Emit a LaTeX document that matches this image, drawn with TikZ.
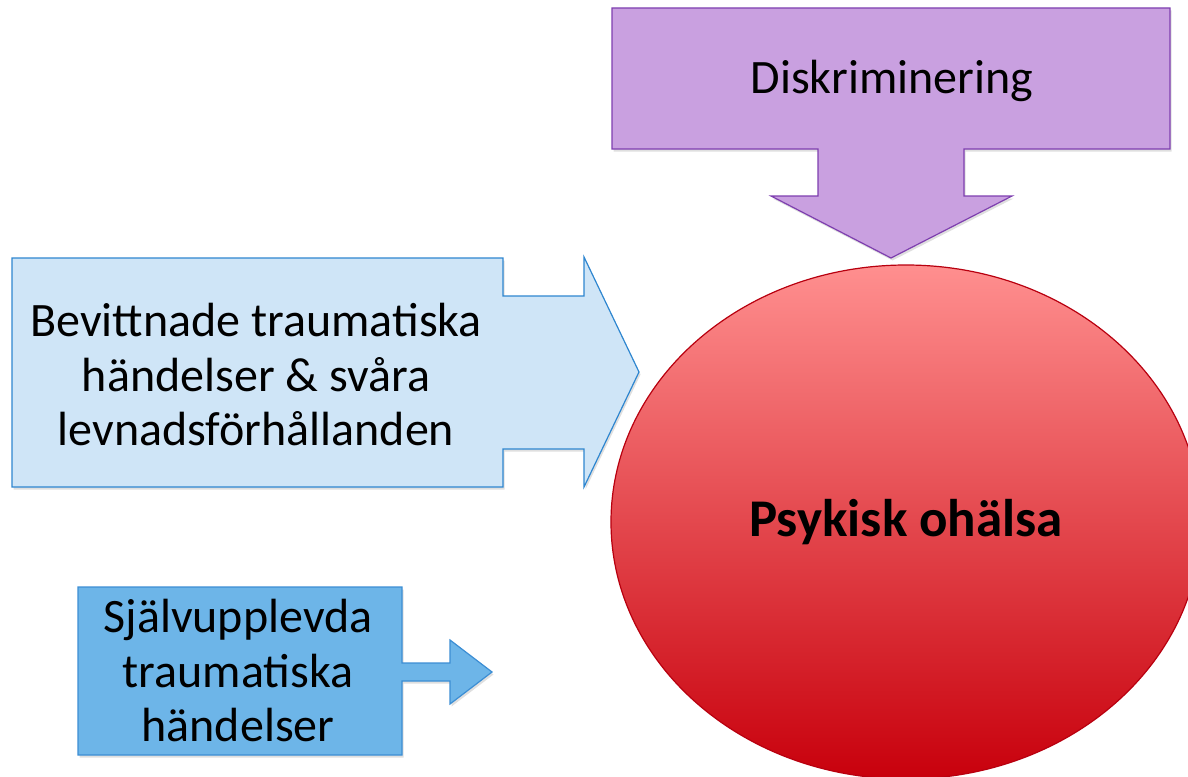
\documentclass[tikz,border=0pt]{standalone}
\usepackage{fontspec}
\setmainfont{Carlito}
\usetikzlibrary{shapes.geometric,shadows}
\definecolor{purfill}{HTML}{C9A0E0}
\definecolor{purline}{HTML}{7E3FAF}
\definecolor{lbfill}{HTML}{CFE5F7}
\definecolor{lbline}{HTML}{2E86D0}
\definecolor{dbfill}{HTML}{6DB5E8}
\definecolor{dbline}{HTML}{3C8ED4}
\definecolor{redtop}{HTML}{FF8F8F}
\definecolor{redbot}{HTML}{C8000C}
\definecolor{redline}{HTML}{B8000F}
\tikzset{
  shp/.style={line width=1.2pt, line join=miter, drop shadow={shadow xshift=1.5pt, shadow yshift=-2.5pt, opacity=0.25}},
  txt/.style={align=center, inner sep=0pt, font=\fontsize{48}{54.5}\selectfont},
}
\begin{document}
\begin{tikzpicture}[x=1pt,y=-1pt]
\useasboundingbox (0,0) rectangle (1188,776);
% purple down arrow callout
\draw[shp, fill=purfill, draw=purline] (612,8) -- (1170,8) -- (1170,149) -- (964,149) -- (964,196) -- (1012,196) -- (891,258) -- (771,196) -- (818,196) -- (818,149) -- (612,149) -- cycle;
\node[txt] (disk) at (892,81) {Diskriminering};
% light blue right arrow callout
\draw[shp, fill=lbfill, draw=lbline] (12,258) -- (503,258) -- (503,296) -- (584,296) -- (584,257) -- (639,372) -- (584,487) -- (584,449) -- (503,449) -- (503,487) -- (12,487) -- cycle;
\node[txt] (bev) at (256,375) {Bevittnade traumatiska\\händelser \& svåra\\levnadsförhållanden};
% dark blue right arrow callout
\draw[shp, fill=dbfill, draw=dbline] (78,587) -- (402,587) -- (402,663) -- (450,663) -- (450,640) -- (492,672) -- (450,704) -- (450,681) -- (402,681) -- (402,755) -- (78,755) -- cycle;
\node[txt] (sjalv) at (238,671) {Självupplevda\\traumatiska\\händelser};
% ellipse
\node[ellipse, draw=redline, line width=1.2pt, top color=redtop, bottom color=redbot, minimum width=590pt, minimum height=514pt, inner sep=0pt, font=\fontsize{53}{60}\selectfont\bfseries] (psyk) at (906,522) {Psykisk ohälsa};
\end{tikzpicture}
\end{document}
